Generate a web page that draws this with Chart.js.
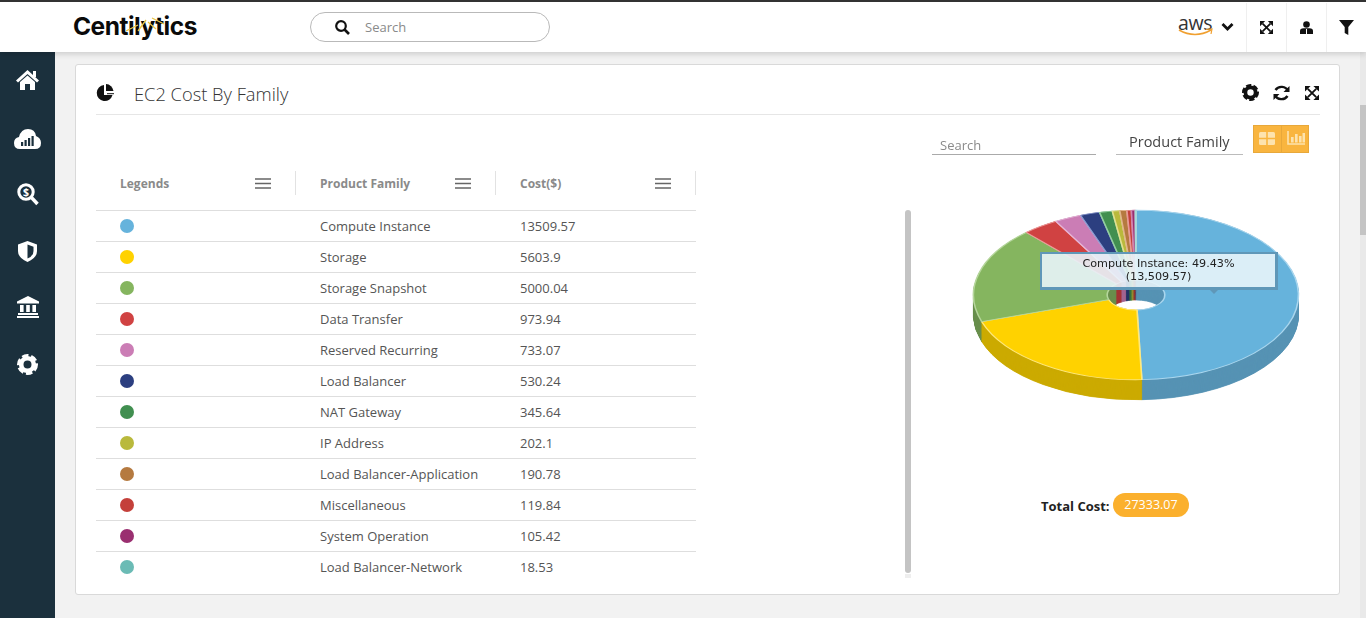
<!DOCTYPE html>
<html><head><meta charset="utf-8">
<script src="https://cdn.jsdelivr.net/npm/chart.js@4"></script>
<style>
html,body{margin:0;padding:0;width:1366px;height:618px;overflow:hidden;background:#f2f2f2;font-family:"Open Sans",sans-serif;color:#444}
.a{position:absolute}
.t{position:absolute;white-space:nowrap;transform:translateY(-50%)}
.line{position:absolute;height:1px;background:#dedede}
svg{position:absolute;overflow:visible}
#tip{position:absolute;box-sizing:border-box;background:rgba(232,244,250,.9);border:2px solid #5f97b8;border-right-width:3px;border-bottom-width:3px;text-align:center;font:11.2px/13px "DejaVu Sans",sans-serif;color:#222;padding-top:3px;z-index:6}
#tip:after{content:"";position:absolute;width:0;height:0;border-left:7px solid transparent;border-right:7px solid transparent;border-top:7px solid #5f97b8;top:100%;}
</style></head><body>
<div class="a" style="left:0;top:0;width:1366px;height:52px;background:#fff;box-shadow:0 2px 6px rgba(0,0,0,.16);z-index:3"></div>
<div class="a" style="left:0;top:0;width:1366px;height:2px;background:#333;z-index:4"></div>
<div class="a" style="left:0;top:52px;width:55px;height:566px;background:#1b303d;z-index:2"></div>
<div class="a" style="left:1360px;top:52px;width:6px;height:566px;background:#e9e9e9"></div>
<div class="a" style="left:1360px;top:105px;width:6px;height:130px;background:#c4c4c4"></div>
<div class="a" style="left:75px;top:64px;width:1263px;height:529px;background:#fff;border:1px solid #d9d9d9;border-radius:3px"></div>
<div class="a" style="left:905px;top:210px;width:6px;height:363px;background:#c4c4c4;border-radius:3px"></div>
<div class="a" style="left:905px;top:574px;width:6px;height:4px;background:#eee"></div>
<div id="page"></div>
<div class="a" style="left:966px;top:125px;width:340px;height:340px;z-index:1"><canvas id="chart" width="340" height="340"></canvas></div>
<div id="tip" style="display:none"></div>
<script>
const categories = ["Compute Instance","Storage","Storage Snapshot","Data Transfer","Reserved Recurring","Load Balancer","NAT Gateway","IP Address","Load Balancer-Application","Miscellaneous","System Operation","Load Balancer-Network"];
const costs = [13509.57,5603.9,5000.04,973.94,733.07,530.24,345.64,202.1,190.78,119.84,105.42,18.53];
const sliceColors = ["#66b3dc","#ffd200","#85b55f","#d04242","#cb7db5","#2c3f80","#418f50","#b9b93c","#b57a40","#c4403a","#9a2f70","#6bbbb5"];
const sideColors = ["#5693b4","#ccaa00","#688f4c","#a53434","#a26490","#233266","#347240","#949430","#916133","#9d332e","#7b265a","#569690"];
const rimColors = ["#a9d6ee","#ffe87a","#b5d69b","#ee9a9a","#e6b6d8","#8c9ad0","#93cfa0","#e0e090","#e0b58c","#e89a96","#d184b0","#a8dcd8"];

const page=document.getElementById('page');
function add(html){page.insertAdjacentHTML('beforeend',html);}
function text(x,y,s,style){add(`<div class="t" style="left:${x}px;top:${y}px;z-index:5;${style||''}">${s}</div>`);}
function rule(x,y,w,c){add(`<div class="line" style="left:${x}px;top:${y}px;width:${w}px;z-index:5;${c?'background:'+c:''}"></div>`);}
function vr(x,y,h,c){add(`<div class="a" style="left:${x}px;top:${y}px;width:1px;height:${h}px;background:${c||'#e2e2e2'};z-index:5"></div>`);}
function icon(x,y,w,h,inner){add(`<svg style="left:${x}px;top:${y}px;z-index:5" width="${w}" height="${h}" viewBox="0 0 ${w} ${h}">${inner}</svg>`);}

// header
text(73,26,'Centilytics',"font:700 24.5px Inter,sans-serif;color:#0a0a0a;letter-spacing:-.5px");
icon(124,16,44,20,'<path d="M2 15 L14 9 M14 15 L22 4 M24 6 L32 13 M28 2 L40 8" stroke="#e8c547" stroke-width="1.3" fill="none"/>');
add('<div class="a" style="left:310px;top:12px;width:238px;height:28px;border:1px solid #b9b9b9;border-radius:15px;z-index:5"></div>');
icon(334,19,16,16,'<circle cx="7" cy="7" r="4.8" fill="none" stroke="#111" stroke-width="2.2"/><path d="M10.5 10.5L15 15" stroke="#111" stroke-width="2.6"/>');
text(365,27,'Search',"font:13px 'Open Sans';color:#8a8a8a");
text(1178,22,'aws',"font:19.5px 'Open Sans';color:#333;letter-spacing:-.3px");
icon(1178,28,36,10,'<path d="M1 2 Q17 11 33 2" stroke="#f0a030" stroke-width="1.7" fill="none"/><path d="M28 1.5L34 1L33 6" stroke="#f0a030" stroke-width="1.2" fill="none"/>');
icon(1221,22,13,10,'<path d="M1.5 2L6.5 7L11.5 2" stroke="#111" stroke-width="2.8" fill="none"/>');
[1246,1286,1326].forEach(x=>vr(x,3,49,'#efefef'));
function expand(x,y,s){s=s||15;icon(x,y,s,s,`<g transform="scale(${s/15})"><g stroke="#111" stroke-width="2" fill="none"><path d="M3 3L12 12M12 3L3 12"/></g><g fill="#111"><path d="M0 0H6L0 6Z"/><path d="M15 0H9L15 6Z"/><path d="M0 15H6L0 9Z"/><path d="M15 15H9L15 9Z"/></g></g>`);}
expand(1260,21,13);
icon(1300,21,13,13,'<circle cx="6.5" cy="3.5" r="3.3" fill="#111"/><path d="M0 13V10Q0 7.3 3.5 7.3H9.5Q13 7.3 13 10V13Z" fill="#111"/><path d="M6.5 8V13" stroke="#fff" stroke-width="1"/>');
icon(1339,20,15,15,'<path d="M0 0H15L9.3 7V15L5.7 13V7Z" fill="#111"/>');

// sidebar
const W='#fff',D='#1b303d';
icon(16,70,23,20,`<path d="M11.5 0L23 10.5L21 12.5L11.5 4L2 12.5L0 10.5Z" fill="${W}"/><path d="M4 12L11.5 5.5L19 12V20H14V14H9V20H4Z" fill="${W}"/><rect x="17" y="1" width="3" height="6" fill="${W}"/>`);
icon(14,128,27,21,`<path d="M6 21Q0 21 0 15Q0 10 5 9Q7 1 14 1Q21 1 22 8Q27 10 27 15Q27 21 21 21Z" fill="${W}"/><g fill="${D}"><rect x="7" y="14" width="2.2" height="4"/><rect x="10.5" y="12" width="2.2" height="6"/><rect x="14" y="10" width="2.2" height="8"/><rect x="17.5" y="8" width="2.2" height="10"/></g>`);
icon(17,183,22,23,`<circle cx="9" cy="9" r="7.2" fill="none" stroke="${W}" stroke-width="3"/><path d="M14 14L20.5 21" stroke="${W}" stroke-width="3.4"/><text x="9" y="12.6" text-anchor="middle" font-family="Open Sans" font-weight="700" font-size="10.5" fill="${W}">$</text>`);
icon(18,241,19,21,`<path d="M9.5 0L19 3.5V10Q19 17 9.5 21Q0 17 0 10V3.5Z" fill="${W}"/><path d="M9.5 3.5L15.5 5.8V10Q15.5 15 9.5 17.5Z" fill="${D}"/>`);
icon(17,296,22,22,`<path d="M11 0L22 5.5V7.5H0V5.5Z" fill="${W}"/><rect x="3" y="9" width="3.6" height="7" fill="${W}"/><rect x="9.2" y="9" width="3.6" height="7" fill="${W}"/><rect x="15.4" y="9" width="3.6" height="7" fill="${W}"/><rect x="1" y="17" width="20" height="2" fill="${W}"/><rect x="0" y="20" width="22" height="2" fill="${W}"/>`);
function gear(x,y,size,col){const c=size/2,r=size*.3;icon(x,y,size,size,`<circle cx="${c}" cy="${c}" r="${r}" fill="none" stroke="${col}" stroke-width="${size*.22}"/><circle cx="${c}" cy="${c}" r="${size*.42}" fill="none" stroke="${col}" stroke-width="${size*.16}" stroke-dasharray="${size*.3} ${size*.1277}"/>`);}
gear(17,354,21,W);

// card
icon(96,84,18,18,`<path d="M8 1A8 8 0 1 0 16.5 11H8Z" fill="#111"/><path d="M10 0A8 8 0 0 1 17.5 7L10 7Z" fill="#111"/><path d="M11 9.2H18V10.2H11Z" fill="#111"/>`);
text(134,93,'EC2 Cost By Family',"font:300 18.3px 'Open Sans';color:#333");
gear(1242,84,17,'#111');
icon(1273,85,17,16,'<path d="M15 6A7 6.5 0 0 0 2.5 5" stroke="#111" stroke-width="2.4" fill="none"/><path d="M2 10A7 6.5 0 0 0 14.5 11" stroke="#111" stroke-width="2.4" fill="none"/><path d="M16.5 1V7H10.5Z" fill="#111"/><path d="M0.5 15V9H6.5Z" fill="#111"/>');
expand(1305,86,14);
rule(96,114,1224,'#e6e6e6');
add('<div class="a" style="left:932px;top:154px;width:164px;height:1px;background:#aaa;z-index:5"></div>');
text(940,145,'Search',"font:13px 'Open Sans';color:#8a8a8a");
add('<div class="a" style="left:1116px;top:154px;width:127px;height:1px;background:#bbb;z-index:5"></div>');
text(1129,140.5,'Product Family',"font:14.5px 'Open Sans';color:#444");
add('<div class="a" style="left:1253px;top:125px;width:56px;height:28px;background:#f9b53f;box-shadow:inset 0 0 0 1px #e8a83a;z-index:5"></div>');
vr(1281,125,28,'#e8a83a');
icon(1259,132,16,13,'<rect width="16" height="13" rx="1.5" fill="#fde3ae"/><path d="M0 6.5H16M8 0V13" stroke="#f9b53f" stroke-width="1.6"/>');
icon(1287,131,18,14,'<path d="M1 0V13H18" stroke="#fde3ae" stroke-width="1.6" fill="none"/><g fill="#fde3ae"><rect x="4" y="6" width="2.6" height="5.5"/><rect x="8" y="3" width="2.6" height="8.5"/><rect x="12" y="5" width="2.6" height="6.5"/><rect x="15.5" y="2" width="2.5" height="9.5"/></g>');

// table
const hdr="font:700 12px 'Open Sans';color:#8a8a8a";
text(120,182.5,'Legends',hdr);text(320,182.5,'Product Family',hdr);text(520,182.5,'Cost($)',hdr);
[255,455,655].forEach(x=>icon(x,178,16,11,'<path d="M0 1H16M0 5.5H16M0 10H16" stroke="#666" stroke-width="1.6"/>'));
[295,495,695].forEach(x=>vr(x,171,24));
rule(96,210,600);
const cell="font:13px 'Open Sans';color:#555";
categories.forEach((c,i)=>{
  const y=226+i*31;
  add(`<div class="a" style="left:120px;top:${y-7}px;width:14px;height:14px;border-radius:50%;background:${sliceColors[i]};z-index:5"></div>`);
  text(320,y,c,cell);
  text(520,y,String(costs[i]),cell);
  if(i<categories.length-1) rule(96,y+15,600);
});

// total
const total=costs.reduce((a,b)=>a+b,0);
text(1041,505.5,'Total Cost:',"font:700 13px 'Open Sans';color:#222");
add(`<div class="a" style="left:1113px;top:493px;width:76px;height:24px;border-radius:12px;background:#fbb02d;color:#fff;font:12.5px/24px 'Open Sans';text-align:center;z-index:5">${total.toFixed(2)}</div>`);

// chart
const squash=85/163, depth=20/squash;
function transformToEllipse(chart){
  const ctx=chart.ctx,cx=(chart.chartArea.left+chart.chartArea.right)/2,cy=(chart.chartArea.top+chart.chartArea.bottom)/2;
  ctx.translate(cx,cy);ctx.scale(1,squash);ctx.translate(-cx,-cy);
}
const pie3d={id:'pie3d',
  beforeDatasetsDraw(chart){
    const ctx=chart.ctx;ctx.save();transformToEllipse(chart);
    const arcs=chart.getDatasetMeta(0).data;
    for(let d=depth;d>0;d-=1){
      ctx.save();ctx.translate(0,d);
      arcs.forEach((arc,i)=>{
        const base=arc.options;
        arc.options=Object.assign({},base,{backgroundColor:sideColors[i],borderColor:sideColors[i],borderWidth:1});
        arc.draw(ctx);
        arc.options=base;
      });
      ctx.restore();
    }
  },
  afterDatasetsDraw(chart){chart.ctx.restore();}
};
function externalTip(context){
  const m=context.tooltip,el=document.getElementById('tip');
  if(!m.body||!m.body.length)return;
  const lines=m.body[0].lines.concat(m.body[0].after);
  el.style.display='block';
  el.style.left='1040px';el.style.top='252px';el.style.width='238px';el.style.height='38px';
  el.innerHTML=lines.join('<br>')+'<style>#tip:after{left:165px}</style>';
}
const chart=new Chart(document.getElementById('chart'),{
  type:'doughnut',
  plugins:[pie3d],
  data:{labels:categories,datasets:[{data:costs,backgroundColor:sliceColors,hoverBackgroundColor:sliceColors,borderColor:rimColors,hoverBorderColor:rimColors,borderWidth:1.6,hoverBorderWidth:1.6,hoverOffset:0,clip:false}]},
  options:{
    responsive:false,animation:false,events:[],cutout:30,radius:162.5,
    layout:{padding:0},
    plugins:{legend:{display:false},title:{display:false},
      tooltip:{enabled:false,external:externalTip,callbacks:{
        label:c=>`${c.label}: ${(c.parsed/total*100).toFixed(2)}%`,
        afterLabel:c=>`(${c.parsed.toLocaleString('en-US',{minimumFractionDigits:2})})`
      }}}
  }
});
chart.tooltip.setActiveElements([{datasetIndex:0,index:0}],{x:0,y:0});
chart.update();
</script>
</body></html>
